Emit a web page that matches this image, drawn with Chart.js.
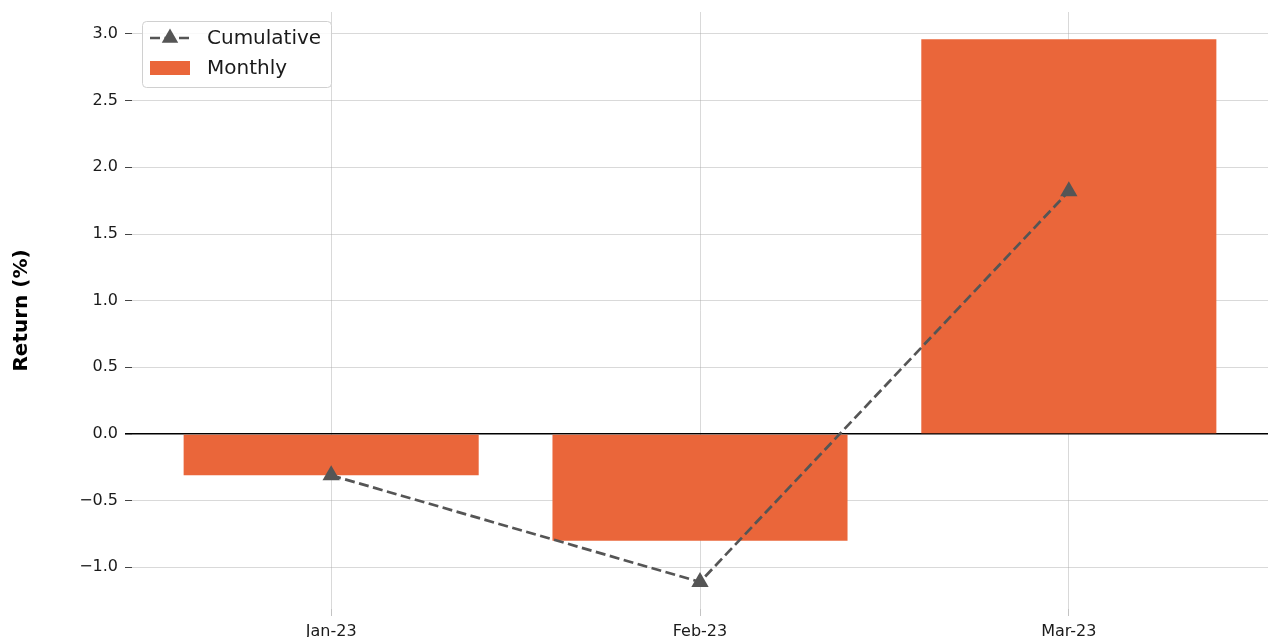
<!DOCTYPE html>
<html>
<head>
<meta charset="utf-8">
<script src="https://cdn.jsdelivr.net/npm/chart.js@4/dist/chart.umd.min.js"></script>
<style>
  body { margin: 0; background: #fff; }
  #wrap { width: 1271px; height: 637px; position: relative; }
</style>
</head>
<body>
<div id="wrap"><canvas id="chart-area"></canvas></div>
<script>
const months = ["Jan-23", "Feb-23", "Mar-23"];
const monthly = [-0.31, -0.80, 2.96];
const cumulative = [-0.31, -1.11, 1.82];
const yTicks = [-1.0, -0.5, 0.0, 0.5, 1.0, 1.5, 2.0, 2.5, 3.0];

const barColor = "#ea663a";
const lineColor = "#555555";
const gridColor = "rgba(170, 170, 170, 0.45)";

// legend drawn inside the plot, top left, like the matplotlib one
const boxLegend = {
  id: "boxLegend",
  afterDraw(chart) {
    const ctx = chart.ctx;
    const a = chart.chartArea;
    const x = a.left + 10, y = a.top + 9, w = 189, h = 66;
    ctx.save();
    ctx.beginPath();
    ctx.roundRect(x + 0.5, y + 0.5, w, h, 4);
    ctx.fillStyle = "rgba(255,255,255,0.85)";
    ctx.fill();
    ctx.strokeStyle = "#d0d0d0";
    ctx.lineWidth = 1;
    ctx.stroke();

    // Cumulative: dashed line + triangle
    const r1 = y + 17;
    ctx.strokeStyle = lineColor;
    ctx.lineWidth = 2.7;
    ctx.setLineDash([10, 4.5]);
    ctx.beginPath();
    ctx.moveTo(x + 8, r1);
    ctx.lineTo(x + 48, r1);
    ctx.stroke();
    ctx.setLineDash([]);
    ctx.fillStyle = lineColor;
    const tr = 9.5, cx = x + 28;
    ctx.beginPath();
    ctx.moveTo(cx, r1 - tr);
    ctx.lineTo(cx + tr * 0.866, r1 + tr * 0.5);
    ctx.lineTo(cx - tr * 0.866, r1 + tr * 0.5);
    ctx.closePath();
    ctx.fill();

    // Monthly: orange patch
    const r2 = y + 47;
    ctx.fillStyle = barColor;
    ctx.fillRect(x + 8, r2 - 7, 40, 14);

    ctx.fillStyle = "#1a1a1a";
    ctx.font = "20px 'DejaVu Sans'";
    ctx.textBaseline = "middle";
    ctx.fillText("Cumulative", x + 65, r1 + 1);
    ctx.fillText("Monthly", x + 65, r2 + 1);
    ctx.restore();
  },
};

new Chart("chart-area", {
  data: {
    datasets: [
      {
        type: "line",
        label: "Cumulative",
        data: cumulative.map((v, i) => ({ x: i, y: v })),
        borderColor: lineColor,
        backgroundColor: lineColor,
        borderWidth: 2.7,
        borderDash: [10, 4.5],
        pointStyle: "triangle",
        pointRadius: 10,
        pointBorderWidth: 0,
        tension: 0,
        order: 0,
      },
      {
        type: "bar",
        label: "Monthly",
        data: monthly.map((v, i) => ({ x: i, y: v })),
        backgroundColor: barColor,
        borderWidth: 0,
        categoryPercentage: 1,
        barPercentage: 0.8,
        order: 1,
      },
    ],
  },
  options: {
    responsive: true,
    maintainAspectRatio: false,
    animation: false,
    layout: { autoPadding: false, padding: { top: 12, right: 3, left: 0, bottom: 0 } },
    plugins: { legend: { display: false }, tooltip: { enabled: false } },
    scales: {
      x: {
        type: "linear",
        min: -0.54,
        max: 2.54,
        offset: false,
        z: 1,
        border: { display: false },
        afterBuildTicks: (scale) => {
          scale.ticks = months.map((m, i) => ({ value: i }));
        },
        afterFit: (scale) => {
          scale.height = 28;
          scale.paddingLeft = 0;
          scale.paddingRight = 0;
        },
        ticks: {
          callback: (v) => months[v],
          font: { family: "DejaVu Sans", size: 16 },
          color: "#1a1a1a",
          padding: 6,
          maxRotation: 0,
        },
        grid: {
          offset: false,
          color: gridColor,
          lineWidth: 1,
          tickLength: 7,
          tickColor: "rgba(170,170,170,0.7)",
        },
      },
      y: {
        min: -1.3125,
        max: 3.165,
        z: 1,
        border: { display: false },
        afterBuildTicks: (scale) => {
          scale.ticks = yTicks.map((v) => ({ value: v }));
        },
        afterFit: (scale) => {
          scale.width = 132;
          scale.paddingTop = 0;
          scale.paddingBottom = 0;
        },
        ticks: {
          callback: (v) => v.toFixed(1).replace("-", "\u2212"),
          font: { family: "DejaVu Sans", size: 16 },
          color: "#1a1a1a",
          padding: 7,
        },
        grid: {
          color: (c) => (c.tick && c.tick.value === 0 ? "#000000" : gridColor),
          lineWidth: (c) => (c.tick && c.tick.value === 0 ? 1.6 : 1),
          tickLength: 7,
          tickColor: (c) => (c.tick && c.tick.value === 0 ? "#000000" : "#444444"),
        },
        title: {
          display: true,
          text: "Return (%)",
          font: { family: "DejaVu Sans", size: 20, weight: "bold" },
          color: "#000000",
          padding: { top: 10, bottom: 0 },
        },
      },
    },
  },
  plugins: [boxLegend],
});
</script>
</body>
</html>
